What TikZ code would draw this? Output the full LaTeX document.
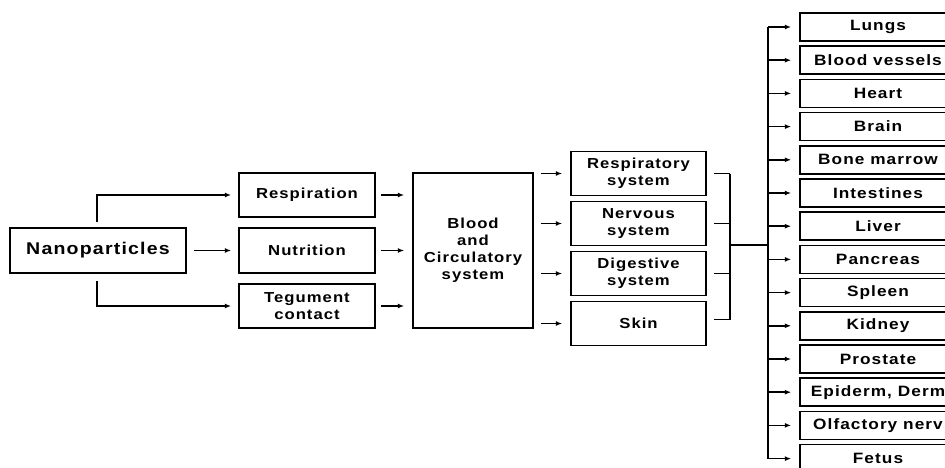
\documentclass[tikz,border=0pt]{standalone}
\usepackage{fontspec}
\setmainfont{Liberation Sans}[FakeStretch=1.15,LetterSpace=7]
\usetikzlibrary{arrows.meta}
\begin{document}
\begin{tikzpicture}[x=1pt,y=-1pt,
  box/.style={draw, line width=1.5pt, align=center, inner sep=0pt,
    font=\bfseries\fontsize{14.5}{17}\selectfont},
  organ/.style={box, minimum width=156pt, minimum height=28pt,
    font=\bfseries\fontsize{15}{17}\selectfont},
  sysbox/.style={box, minimum width=135pt, minimum height=44pt},
  inbox/.style={box, minimum width=136pt, minimum height=44pt},
  arr/.style={-{Latex[length=6.5pt,width=5pt]}, line width=1.6pt},
  ln/.style={line width=1.6pt}]
\useasboundingbox (0,0) rectangle (945,468);
\clip (0,0) rectangle (945,468);

\node[box, minimum width=176pt, minimum height=45pt,
  font=\bfseries\fontsize{17}{20}\selectfont] (nano) at (98,250.5) {Nanoparticles};

\node[inbox] (resp) at (307,195) {Respiration};
\node[inbox, minimum height=45pt] (nutr) at (307,250.5) {Nutrition};
\node[inbox] (teg) at (307,306) {Tegument\\contact};

\node[box, minimum width=120pt, minimum height=155pt] (blood) at (473,250.5) {Blood\\and\\Circulatory\\system};

\node[sysbox] (rs) at (638.5,173.5) {Respiratory\\system};
\node[sysbox] (ns) at (638.5,223.5) {Nervous\\system};
\node[sysbox] (ds) at (638.5,273.5) {Digestive\\system};
\node[sysbox] (sk) at (638.5,323.5) {Skin};

\foreach \n/\t [count=\i from 0] in {o1/Lungs, o2/Blood vessels, o3/Heart, o4/Brain,
  o5/Bone marrow, o6/Intestines, o7/Liver, o8/Pancreas, o9/Spleen, o10/Kidney,
  o11/Prostate, o12/{Epiderm, Derm}, o13/Olfactory nerv, o14/Fetus}
  \node[organ] (\n) at (878,27+33.2*\i) {\t};

% Nanoparticles to routes
\draw[arr, shorten <=5pt, shorten >=7pt] ([xshift=-1pt]nano.north) |- (resp.west);
\draw[arr, shorten <=7pt, shorten >=7pt] (nano.east) -- (nutr.west);
\draw[arr, shorten <=7pt, shorten >=7pt] ([xshift=-1pt]nano.south) |- (teg.west);

% routes to blood
\foreach \r in {resp,nutr,teg}
  \draw[arr, shorten <=5pt, shorten >=8pt] (\r.east) -- (\r.east -| blood.west);

% blood to systems
\foreach \s in {rs,ns,ds,sk}
  \draw[arr, shorten <=7pt, shorten >=8pt] (blood.east |- \s.west) -- (\s.west);

% bracket
\coordinate (bk) at (730,245);
\coordinate (tr) at (768,245);
\foreach \s in {rs,ns,ds}
  \draw[ln, shorten <=7pt] (\s.east) -- (\s.east -| bk);
\draw[ln, shorten <=7pt] ([yshift=4pt]sk.east) -- ([yshift=4pt]sk.east -| bk);
\draw[ln] (rs.east -| bk) -- ([yshift=4pt]sk.east -| bk);
\draw[ln] (bk) -- (tr);

% trunk to organs
\draw[ln] (o1.west -| tr) -- (o14.west -| tr);
\foreach \i in {1,...,14}
  \draw[arr, shorten >=8pt] (o\i.west -| tr) -- (o\i.west);
\end{tikzpicture}
\end{document}
